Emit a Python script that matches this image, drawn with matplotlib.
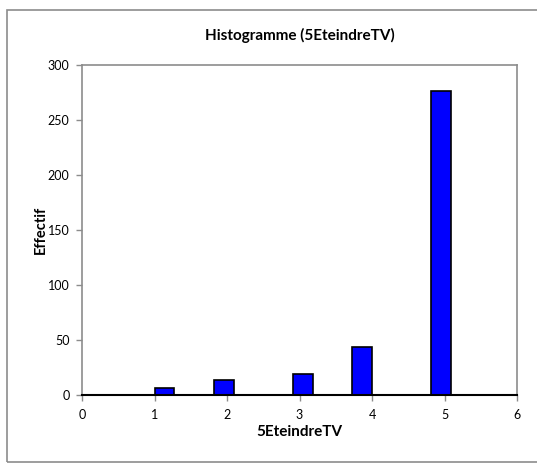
import matplotlib
matplotlib.use("Agg")
import matplotlib.pyplot as plt
from matplotlib.patches import Rectangle

# Data: histogram bins (left edges) and counts
bin_width = 3 / 11
bin_lefts = [1 + k * bin_width for k in range(15)]
counts = [6, 0, 0, 14, 0, 0, 0, 19, 0, 0, 44, 0, 0, 0, 276]
x_ticks = [0, 1, 2, 3, 4, 5, 6]
y_ticks = [0, 50, 100, 150, 200, 250, 300]

plt.rcParams['font.family'] = ['Lato', 'DejaVu Sans']

W, H = 537, 463
fig = plt.figure(figsize=(W / 100, H / 100), dpi=100)

# outer chart border
fig.patches.append(Rectangle((7 / W, 1 - 462 / H), (540 - 7) / W, (462 - 10) / H,
                             transform=fig.transFigure, fill=False,
                             edgecolor='#8c8c8c', linewidth=1.2))

left, right, top, bottom = 82, 517, 65, 395
ax = fig.add_axes([left / W, 1 - bottom / H, (right - left) / W, (bottom - top) / H])

ax.bar(bin_lefts, counts, width=bin_width, align='edge', color='#0000ff',
       edgecolor='black', linewidth=1.2, zorder=3)
ax.plot([0, 6], [0, 0], color='black', linewidth=1.5, zorder=4, clip_on=False)

ax.set_xlim(0, 6)
ax.set_ylim(0, 300)
ax.set_xticks(x_ticks)
ax.set_yticks(y_ticks)
ax.set_xticklabels([str(v) for v in x_ticks])
ax.set_yticklabels([str(v) for v in y_ticks])
for s in ax.spines.values():
    s.set_color('#8c8c8c')
    s.set_linewidth(1.2)
ax.tick_params(axis='both', colors='#8c8c8c', labelcolor='black', labelsize=9,
               length=4, width=1)
ax.tick_params(axis='y', pad=5)
ax.tick_params(axis='x', pad=6)

ax.set_xlabel('5EteindreTV', fontsize=11, fontweight='bold', labelpad=3)
ax.set_ylabel('Effectif', fontsize=10.5, fontweight='bold', labelpad=0)
fig.text((left + right) / 2 / W, 1 - 35 / H, 'Histogramme (5EteindreTV)',
         ha='center', va='center', fontsize=11, fontweight='bold')

fig.savefig('out.png', dpi=100)
